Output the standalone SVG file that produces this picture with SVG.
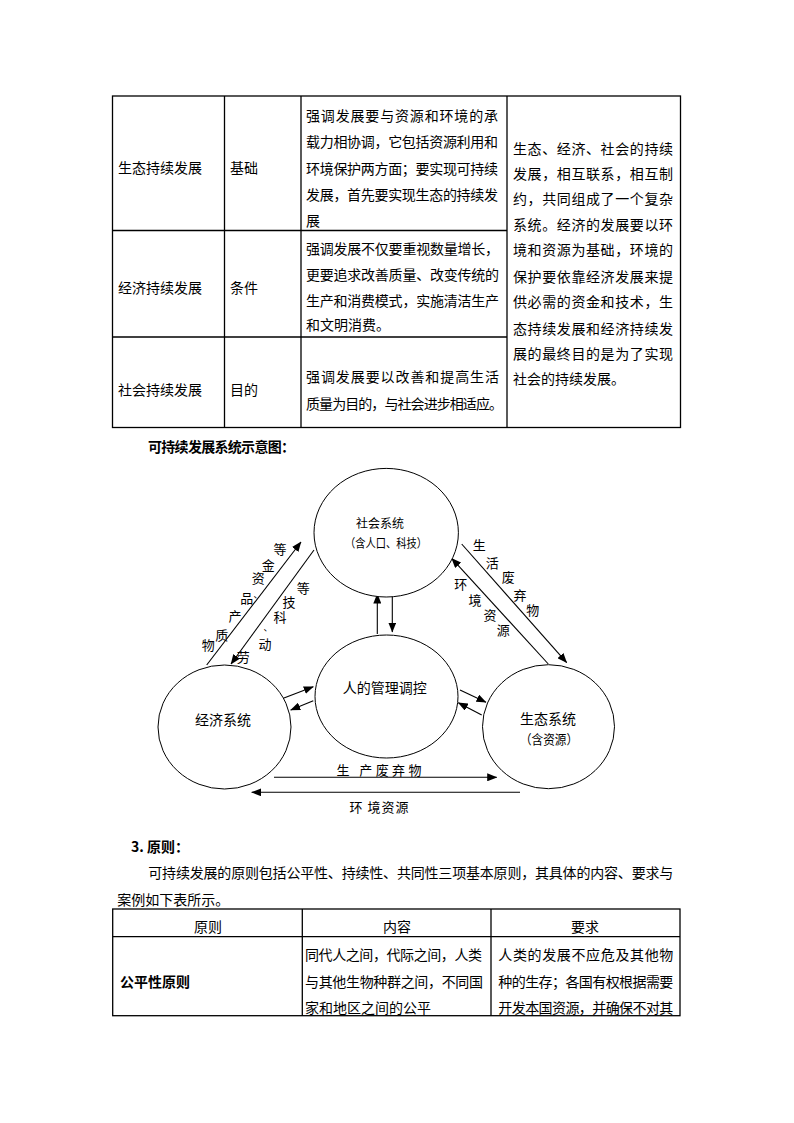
<svg xmlns="http://www.w3.org/2000/svg" width="794" height="1123" viewBox="0 0 794 1123">
<style>
.t{font-family:"Noto Sans CJK SC","Noto Sans CJK JP",sans-serif;font-size:14px;fill:#000}
.tb{font-family:"Noto Sans CJK SC","Noto Sans CJK JP",sans-serif;font-size:14px;font-weight:bold;fill:#000}
.s{font-family:"Noto Sans CJK SC","Noto Sans CJK JP",sans-serif;font-size:13px;fill:#000;text-anchor:middle}
.d{font-size:9px}
.c{text-anchor:middle}
.grid{stroke:#000;stroke-width:1.3;fill:none}
.node{fill:#fff;stroke:#000;stroke-width:1}
.arr{stroke:#000;stroke-width:1.1;fill:none;marker-end:url(#ah)}
</style>
<defs>
<marker id="ah" markerUnits="userSpaceOnUse" markerWidth="10" markerHeight="8" refX="9.5" refY="4" orient="auto">
<path d="M0,0 L10,4 L0,8 z" fill="#000"/>
</marker>
</defs>
<rect width="794" height="1123" fill="#fff"/>

<!-- Top table -->
<g id="table1">
<rect class="grid" x="112.5" y="96" width="568" height="331.5"/>
<line class="grid" x1="224.5" y1="96" x2="224.5" y2="427.5"/>
<line class="grid" x1="301" y1="96" x2="301" y2="427.5"/>
<line class="grid" x1="507" y1="96" x2="507" y2="427.5"/>
<line class="grid" x1="112.5" y1="230.5" x2="507" y2="230.5"/>
<line class="grid" x1="112.5" y1="337" x2="507" y2="337"/>
<text class="t" x="118" y="173">生态持续发展</text>
<text class="t" x="230" y="173">基础</text>
<text class="t" x="306" y="121" textLength="192" lengthAdjust="spacing">强调发展要与资源和环境的承</text>
<text class="t" x="306" y="147" textLength="192" lengthAdjust="spacing">载力相协调，它包括资源利用和</text>
<text class="t" x="306" y="173.5" textLength="192" lengthAdjust="spacing">环境保护两方面；要实现可持续</text>
<text class="t" x="306" y="199.5" textLength="192" lengthAdjust="spacing">发展，首先要实现生态的持续发</text>
<text class="t" x="306" y="225.5">展</text>
<text class="t" x="118" y="293">经济持续发展</text>
<text class="t" x="230" y="293">条件</text>
<text class="t" x="306" y="253.5" textLength="193" lengthAdjust="spacing">强调发展不仅要重视数量增长，</text>
<text class="t" x="306" y="280" textLength="193" lengthAdjust="spacing">更要追求改善质量、改变传统的</text>
<text class="t" x="306" y="305.5" textLength="193" lengthAdjust="spacing">生产和消费模式，实施清洁生产</text>
<text class="t" x="306" y="330">和文明消费。</text>
<text class="t" x="118" y="395">社会持续发展</text>
<text class="t" x="230" y="395">目的</text>
<text class="t" x="306" y="382" textLength="193" lengthAdjust="spacing">强调发展要以改善和提高生活</text>
<text class="t" x="306" y="408.5" textLength="197" lengthAdjust="spacing">质量为目的，与社会进步相适应。</text>
<text class="t" x="513" y="153.5" textLength="160" lengthAdjust="spacing">生态、经济、社会的持续</text>
<text class="t" x="513" y="178.5" textLength="160" lengthAdjust="spacing">发展，相互联系，相互制</text>
<text class="t" x="513" y="203.5" textLength="160" lengthAdjust="spacing">约，共同组成了一个复杂</text>
<text class="t" x="513" y="230" textLength="160" lengthAdjust="spacing">系统。经济的发展要以环</text>
<text class="t" x="513" y="255" textLength="160" lengthAdjust="spacing">境和资源为基础，环境的</text>
<text class="t" x="513" y="282" textLength="160" lengthAdjust="spacing">保护要依靠经济发展来提</text>
<text class="t" x="513" y="307" textLength="160" lengthAdjust="spacing">供必需的资金和技术，生</text>
<text class="t" x="513" y="333.5" textLength="160" lengthAdjust="spacing">态持续发展和经济持续发</text>
<text class="t" x="513" y="358.5" textLength="160" lengthAdjust="spacing">展的最终目的是为了实现</text>
<text class="t" x="513" y="383.5">社会的持续发展。</text>
</g>

<text class="tb" x="148" y="452" textLength="147" lengthAdjust="spacing">可持续发展系统示意图：</text>

<!-- Connectors -->
<g id="connectors">
<line class="arr" x1="206.7" y1="665" x2="301" y2="542"/>
<line class="arr" x1="314" y1="550" x2="231" y2="664"/>
<line class="arr" x1="461.7" y1="544" x2="566.7" y2="662.7"/>
<line class="arr" x1="548.3" y1="664" x2="451.7" y2="558.3"/>
<line class="arr" x1="377.3" y1="634" x2="377.3" y2="594"/>
<line class="arr" x1="392.3" y1="593" x2="392.3" y2="632"/>
<line class="arr" x1="283.3" y1="698.3" x2="313.3" y2="686.7"/>
<line class="arr" x1="313.3" y1="700.7" x2="290.7" y2="710"/>
<line class="arr" x1="460" y1="690" x2="486" y2="702.3"/>
<line class="arr" x1="481.7" y1="715" x2="458.3" y2="702.7"/>
<line class="arr" x1="274" y1="777.3" x2="496.7" y2="777.3"/>
<line class="arr" x1="520" y1="792.3" x2="251.7" y2="792.3"/>
<g id="connector-labels">
<text class="s" x="208.3" y="649.5">物</text>
<text class="s" x="221.7" y="639.5">质</text>
<text class="s" x="235" y="621">产</text>
<text class="s" x="246.7" y="603">品</text>
<text class="s d" x="258" y="597.5">、</text>
<text class="s" x="258.3" y="582.5">资</text>
<text class="s" x="268.3" y="569.5">金</text>
<text class="s" x="280" y="554">等</text>
<text class="s" x="243.3" y="661.5">劳</text>
<text class="s" x="265" y="648.5">动</text>
<text class="s d" x="268" y="630.5">、</text>
<text class="s" x="280" y="621.5">科</text>
<text class="s" x="289" y="607">技</text>
<text class="s" x="303.3" y="592.5">等</text>
<text class="s" x="479.3" y="549.5">生</text>
<text class="s" x="492.3" y="567.5">活</text>
<text class="s" x="508.3" y="581.5">废</text>
<text class="s" x="520" y="599.5">弃</text>
<text class="s" x="532.7" y="614.5">物</text>
<text class="s" x="460.7" y="588.5">环</text>
<text class="s" x="475" y="604.5">境</text>
<text class="s" x="490" y="619.5">资</text>
<text class="s" x="503.3" y="634.5">源</text>
<text class="s" x="379" y="775" textLength="85" lengthAdjust="spacing">生 产废弃物</text>
<text class="s" x="379" y="811.5" textLength="59" lengthAdjust="spacing">环 境资源</text>
</g>
</g>

<g id="node-social">
<ellipse class="node" cx="386.2" cy="532.7" rx="72.2" ry="64.3"/>
<text class="t c" x="380" y="527.5" style="font-size:12px">社会系统</text>
<text class="t c" x="386" y="547.5" style="font-size:12px" textLength="82" lengthAdjust="spacingAndGlyphs">（含人口、科技）</text>
</g>
<g id="node-manage">
<ellipse class="node" cx="386.5" cy="696.5" rx="71.5" ry="61.5"/>
<text class="t c" x="384.7" y="693.3">人的管理调控</text>
</g>
<g id="node-economy">
<ellipse class="node" cx="224.5" cy="727" rx="66.5" ry="62"/>
<text class="t c" x="223" y="725">经济系统</text>
</g>
<g id="node-ecology">
<ellipse class="node" cx="548.5" cy="726.7" rx="66" ry="62"/>
<text class="t c" x="548" y="724">生态系统</text>
<text class="t c" x="549" y="743.5" style="font-size:13px" textLength="58" lengthAdjust="spacingAndGlyphs">（含资源）</text>
</g>

<!-- Section 3 -->
<text class="tb" x="131" y="851.5">3. 原则：</text>
<text class="t" x="148.3" y="878.3" textLength="525" lengthAdjust="spacing">可持续发展的原则包括公平性、持续性、共同性三项基本原则，其具体的内容、要求与</text>
<text class="t" x="117.3" y="905">案例如下表所示。</text>

<g id="table2">
<rect class="grid" x="112.7" y="909" width="567.3" height="106.7"/>
<line class="grid" x1="302.3" y1="909" x2="302.3" y2="1015.7"/>
<line class="grid" x1="491" y1="909" x2="491" y2="1015.7"/>
<line class="grid" x1="112.7" y1="936.7" x2="680" y2="936.7"/>
<text class="t c" x="208" y="932">原则</text>
<text class="t c" x="397" y="932">内容</text>
<text class="t c" x="585" y="932">要求</text>
<text class="tb" x="120" y="986.5">公平性原则</text>
<text class="t" x="305" y="960" textLength="177" lengthAdjust="spacing">同代人之间，代际之间，人类</text>
<text class="t" x="305" y="986.5" textLength="178" lengthAdjust="spacing">与其他生物种群之间，不同国</text>
<text class="t" x="305" y="1013">家和地区之间的公平</text>
<text class="t" x="498.3" y="960" textLength="175" lengthAdjust="spacing">人类的发展不应危及其他物</text>
<text class="t" x="498.3" y="986.5" textLength="175" lengthAdjust="spacing">种的生存；各国有权根据需要</text>
<text class="t" x="498.3" y="1013" textLength="175" lengthAdjust="spacing">开发本国资源，并确保不对其</text>
</g>
</svg>
